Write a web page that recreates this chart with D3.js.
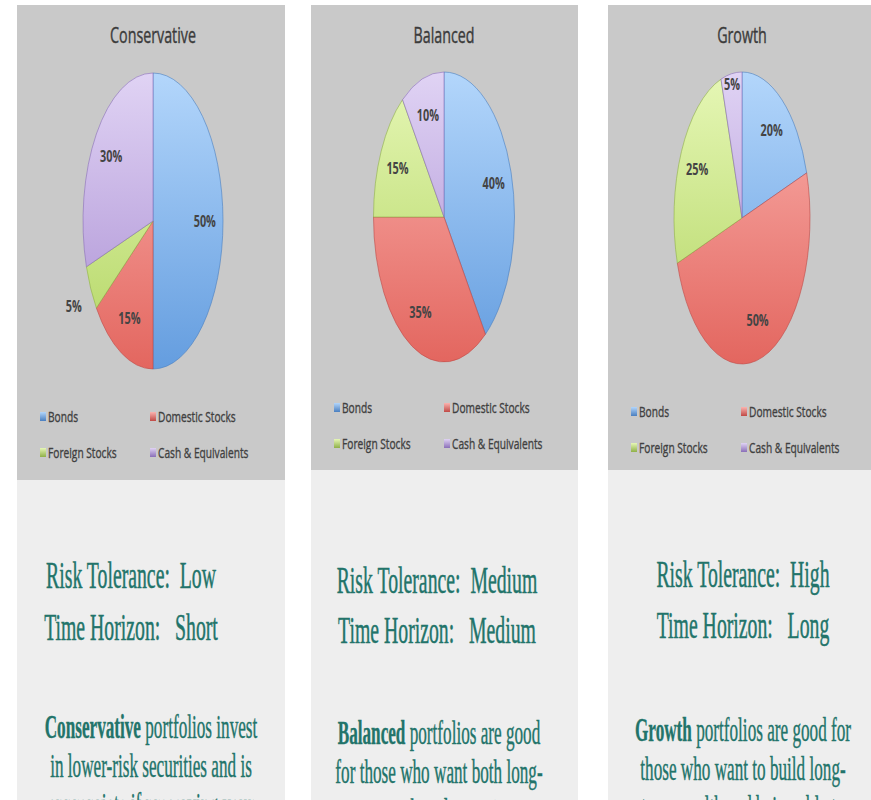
<!DOCTYPE html>
<html>
<head>
<meta charset="utf-8">
<script src="https://cdn.jsdelivr.net/npm/d3@7"></script>
<style>
body { margin: 0; background: #fff; }
text { white-space: pre; }
</style>
</head>
<body>
<svg id="chart" width="871" height="800"></svg>
<script>
// chart data
var portfolios = ["Conservative", "Balanced", "Growth"];
var categories = ["Bonds", "Domestic Stocks", "Foreign Stocks", "Cash & Equivalents"];
var conservative = [50, 15, 5, 30];
var balanced = [40, 35, 15, 10];
var growth = [20, 50, 25, 5];
var riskTolerance = ["Low", "Medium", "High"];
var timeHorizon = ["Short", "Medium", "Long"];
var descLead = ["Conservative", "Balanced", "Growth"];
var descRest = [
	[" portfolios invest", "in lower-risk securities and is", "appropriate if preserving your"],
	[" portfolios are good", "for those who want both long-", "term growth and some income"],
	[" portfolios are good for", "those who want to build long-", "term wealth and being able to"]
];

var allValues = [conservative, balanced, growth];

// layout of the three cards
var panels = [
	{x0: 17, x1: 285, grayEnd: 480, cx: 153, cy: 221, rx: 70, ry: 148, legY: 417, textX: 131, riskY: 588, timeY: 640, descX: 151, descY: 738},
	{x0: 311, x1: 578, grayEnd: 470, cx: 444, cy: 217, rx: 70.5, ry: 145, legY: 408, textX: 437, riskY: 593, timeY: 643, descX: 439, descY: 744},
	{x0: 608, x1: 871, grayEnd: 470, cx: 742, cy: 218, rx: 68, ry: 146, legY: 412, textX: 743, riskY: 587, timeY: 638, descX: 743, descY: 741}
];
// label radius overrides (panel-slice)
var labelPush = {"0-2": 1.27, "2-3": 0.93};

var colors = [
	{top: "#b3d6fb", bot: "#649ddf", line: "#4a7fc0"},
	{top: "#fbb4b0", bot: "#e3665f", line: "#c04a46"},
	{top: "#e6f7b6", bot: "#b2d562", line: "#8fb048"},
	{top: "#e0d3f4", bot: "#a98dd2", line: "#8a6fb8"}
];

var sansFont = "'Open Sans', 'DejaVu Sans', sans-serif";
var serifFont = "'Liberation Serif', 'DejaVu Serif', serif";
var sansScale = 0.68;
var serifScale = 0.52;
var teal = "#22746a";
var R = 100;

var svg = d3.select("#chart");
var defs = svg.append("defs");

colors.forEach(function(c, i) {
	var g1 = defs.append("linearGradient")
		.attr("id", "pieGrad" + i)
		.attr("gradientUnits", "userSpaceOnUse")
		.attr("x1", 0).attr("y1", -R).attr("x2", 0).attr("y2", R);
	g1.append("stop").attr("offset", "0%").attr("stop-color", c.top);
	g1.append("stop").attr("offset", "100%").attr("stop-color", c.bot);
	var g2 = defs.append("linearGradient")
		.attr("id", "legGrad" + i)
		.attr("x1", 0).attr("y1", 0).attr("x2", 0).attr("y2", 1);
	g2.append("stop").attr("offset", "0%").attr("stop-color", c.top);
	g2.append("stop").attr("offset", "100%").attr("stop-color", c.line);
});

var pie = d3.pie().sort(null).value(function(d) { return d; });
var arc = d3.arc().innerRadius(0).outerRadius(R);

panels.forEach(function(p, pi) {
	// backgrounds
	svg.append("rect")
		.attr("x", p.x0).attr("y", 5)
		.attr("width", p.x1 - p.x0).attr("height", p.grayEnd - 5)
		.attr("fill", "#c9c9c9");
	svg.append("rect")
		.attr("x", p.x0).attr("y", p.grayEnd)
		.attr("width", p.x1 - p.x0).attr("height", 800 - p.grayEnd)
		.attr("fill", "#eeeeee");

	// title
	svg.append("text")
		.attr("transform", "translate(" + p.cx + ",43) scale(" + sansScale + ",1)")
		.attr("text-anchor", "middle")
		.attr("font-family", sansFont)
		.attr("font-size", 21)
		.attr("fill", "#3b3b3b")
		.attr("stroke", "#3b3b3b")
		.attr("stroke-width", 0.4)
		.text(portfolios[pi]);

	// pie
	var arcs = pie(allValues[pi]);
	var g = svg.append("g")
		.attr("transform", "translate(" + p.cx + "," + p.cy + ") scale(" + (p.rx / R) + "," + (p.ry / R) + ")");
	g.selectAll("path")
		.data(arcs)
		.enter().append("path")
		.attr("d", arc)
		.attr("fill", function(d, i) { return "url(#pieGrad" + i + ")"; })
		.attr("stroke", function(d, i) { return colors[i].line; })
		.attr("stroke-opacity", 0.6)
		.attr("stroke-width", 1)
		.attr("vector-effect", "non-scaling-stroke");

	// labels
	arcs.forEach(function(d, i) {
		var mid = (d.startAngle + d.endAngle) / 2;
		var f = labelPush[pi + "-" + i] || 0.74;
		var lx = p.cx + p.rx * f * Math.sin(mid);
		var ly = p.cy - p.ry * f * Math.cos(mid);
		svg.append("text")
			.attr("transform", "translate(" + lx + "," + ly + ") scale(" + sansScale + ",1)")
			.attr("text-anchor", "middle")
			.attr("dy", "0.35em")
			.attr("font-family", sansFont)
			.attr("font-size", 16)
			.attr("font-weight", "bold")
			.attr("fill", "#444")
			.text(d.data + "%");
	});

	// legend
	categories.forEach(function(name, i) {
		var lx = p.x0 + (i % 2 === 0 ? 23 : 133);
		var ly = p.legY + Math.floor(i / 2) * 36;
		svg.append("rect")
			.attr("x", lx).attr("y", ly - 5)
			.attr("width", 6).attr("height", 9)
			.attr("fill", "url(#legGrad" + i + ")");
		svg.append("text")
			.attr("transform", "translate(" + (lx + 8) + "," + (ly + 5) + ") scale(" + sansScale + ",1)")
			.attr("font-family", sansFont)
			.attr("font-size", 15)
			.attr("fill", "#404040")
			.attr("stroke", "#404040")
			.attr("stroke-width", 0.35)
			.text(name);
	});

	// risk / time text
	svg.append("text")
		.attr("transform", "translate(" + p.textX + "," + p.riskY + ") scale(" + serifScale + ",1)")
		.attr("text-anchor", "middle")
		.attr("font-family", serifFont)
		.attr("font-size", 38)
		.attr("fill", teal)
		.attr("stroke", teal)
		.attr("stroke-width", 0.5)
		.text("Risk Tolerance:  " + riskTolerance[pi]);
	svg.append("text")
		.attr("transform", "translate(" + p.textX + "," + p.timeY + ") scale(" + serifScale + ",1)")
		.attr("text-anchor", "middle")
		.attr("font-family", serifFont)
		.attr("font-size", 38)
		.attr("fill", teal)
		.attr("stroke", teal)
		.attr("stroke-width", 0.5)
		.text("Time Horizon:   " + timeHorizon[pi]);

	// description (third line runs off the bottom edge, as in the source)
	descRest[pi].forEach(function(line, li) {
		var t = svg.append("text")
			.attr("transform", "translate(" + p.descX + "," + (p.descY + li * 39) + ") scale(" + serifScale + ",1)")
			.attr("text-anchor", "middle")
			.attr("font-family", serifFont)
			.attr("font-size", 33)
			.attr("fill", teal)
			.attr("stroke", teal)
			.attr("stroke-width", 0.4);
		if (li === 0) {
			t.append("tspan").attr("font-weight", "bold").text(descLead[pi]);
		}
		t.append("tspan").text(line);
	});
});
</script>
</body>
</html>
